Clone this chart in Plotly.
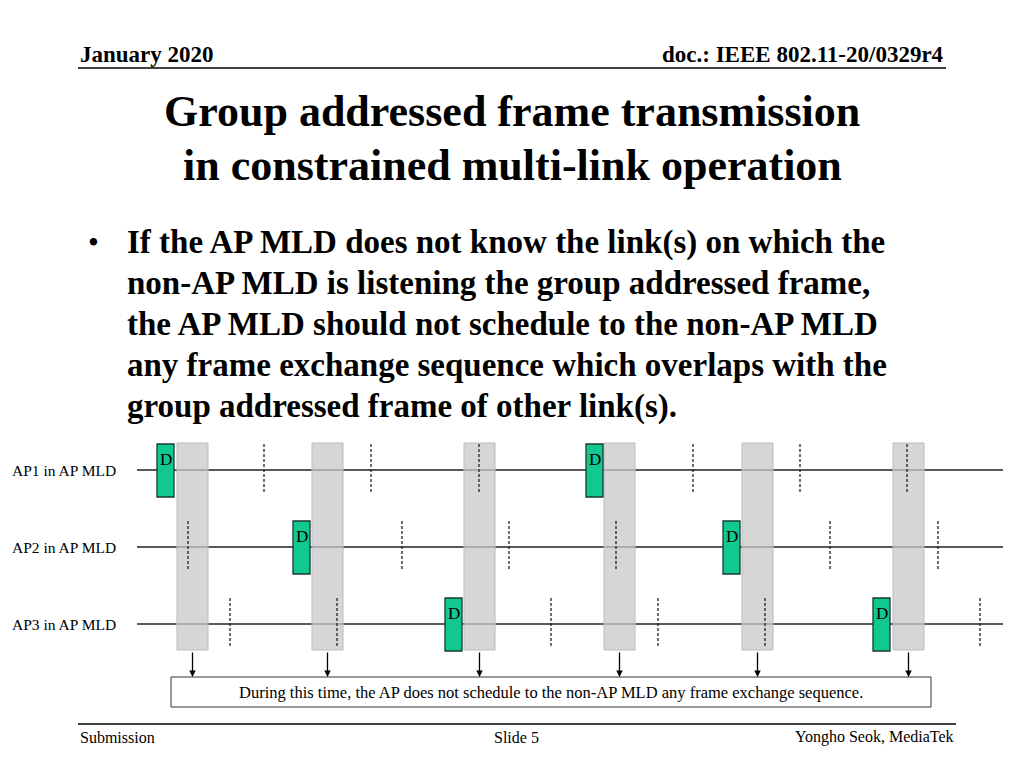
import plotly.graph_objects as go

link_labels = ["AP1 in AP MLD", "AP2 in AP MLD", "AP3 in AP MLD"]
link_y = [470, 547, 624]
gray_x0 = [177, 312, 464, 604, 742, 893]
gray_width = 31
d_blocks = [  # (link index, x0)
    (0, 157), (0, 586), (1, 293), (1, 723), (2, 445), (2, 873)]
d_y0 = [444, 521, 598]
dashed = [[264, 371, 479, 693, 800, 907],
          [188, 402, 509, 616, 830, 938],
          [230, 337, 551, 658, 765, 980]]
bullet_lines = [
    "If the AP MLD does not know the link(s) on which the",
    "non-AP MLD is listening the group addressed frame,",
    "the AP MLD should not schedule to the non-AP MLD",
    "any frame exchange sequence which overlaps with the",
    "group addressed frame of other link(s).",
]
note = "During this time, the AP does not schedule to the non-AP MLD any frame exchange sequence."

F = "Liberation Serif, Times New Roman, serif"
fig = go.Figure()
shapes, ann = [], []

def line(x0, y0, x1, y1, color="black", width=1, dash="solid"):
    shapes.append(dict(type="line", x0=x0, y0=y0, x1=x1, y1=y1, line=dict(color=color, width=width, dash=dash)))

def text(x, y, s, size, xanchor="left", bold=False, color="black"):
    ann.append(dict(x=x, y=y, text=f"<b>{s}</b>" if bold else s, showarrow=False, xanchor=xanchor,
                    yanchor="middle", font=dict(family=F, size=size, color=color)))

# header / footer
line(78, 68, 946, 68, width=1.5)
text(78, 54, "January 2020", 23, bold=True)
text(946, 54, "doc.: IEEE 802.11-20/0329r4", 23, "right", bold=True)
text(512, 111, "Group addressed frame transmission", 44, "center", bold=True)
text(512, 165, "in constrained multi-link operation", 44, "center", bold=True)
text(86, 242, "•", 31)
for i, s in enumerate(bullet_lines):
    text(125, 242 + i * 41, s, 33, bold=True)
line(78, 724, 956, 724, width=1.5)
text(78, 737, "Submission", 16)
text(516, 737, "Slide 5", 16, "center")
text(956, 737, "Yongho Seok, MediaTek", 16, "right")

# link lines
for lab, y in zip(link_labels, link_y):
    line(137, y, 1003, y, color="#222", width=1.5)
    text(10, y, lab, 15.5)
# gray bars
for x0 in gray_x0:
    shapes.append(dict(type="rect", x0=x0, x1=x0 + gray_width, y0=443, y1=650,
                       fillcolor="rgba(200,200,200,0.75)", line=dict(color="#bbb", width=1)))
# dashed lines
for li, xs in enumerate(dashed):
    for x in xs:
        line(x, link_y[li] - 26, x, link_y[li] + 24, color="#222", width=1.3, dash="3px,2px")
# D blocks
for li, x0 in d_blocks:
    y0 = d_y0[li]
    shapes.append(dict(type="rect", x0=x0, x1=x0 + 17, y0=y0, y1=y0 + 53,
                       fillcolor="#10c890", line=dict(color="#1a3a30", width=1.3)))
    text(x0 + 8.5, y0 + 15, "D", 17, "center")
# arrows
for x0 in gray_x0:
    xc = x0 + gray_width / 2
    ann.append(dict(x=xc, y=677, ax=xc, ay=651, xref="x", yref="y", axref="x", ayref="y",
                    showarrow=True, arrowhead=2, arrowsize=1, arrowwidth=1.3, arrowcolor="black", text=""))
shapes.append(dict(type="rect", x0=171, x1=931, y0=677, y1=707, line=dict(color="#333", width=1)))
text(551, 692, note, 16.5, "center")

fig.update_layout(shapes=shapes, annotations=ann, width=1024, height=768,
                  margin=dict(l=0, r=0, t=0, b=0), plot_bgcolor="white", paper_bgcolor="white",
                  showlegend=False,
                  xaxis=dict(range=[0, 1024], visible=False, fixedrange=True),
                  yaxis=dict(range=[768, 0], visible=False, fixedrange=True))
fig.write_html("out.html", config={"displayModeBar": False})
with open("out.html", encoding="utf-8") as f:
    html = f.read()
html = html.replace("<head>", "<head><style>html,body{margin:0;padding:0;overflow:hidden;}</style>", 1)
with open("out.html", "w", encoding="utf-8") as f:
    f.write(html)
